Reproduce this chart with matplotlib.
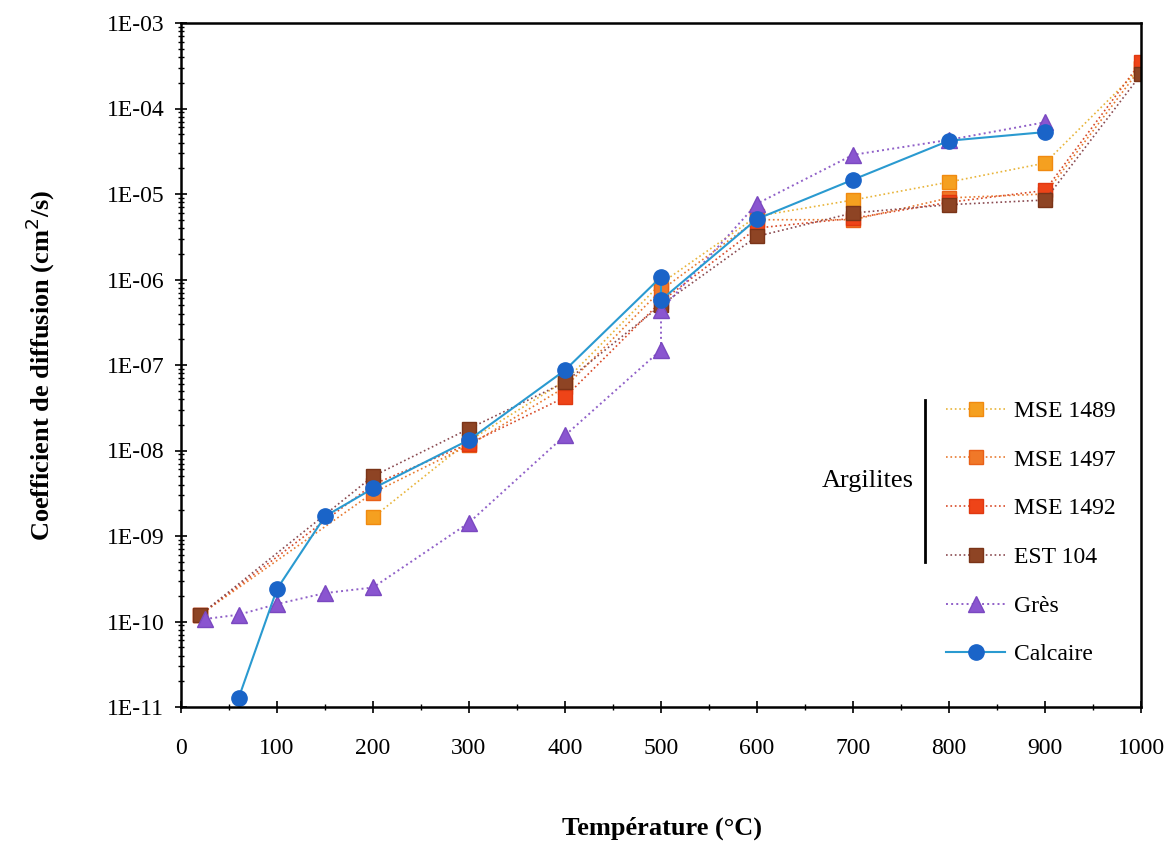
import numpy as np
from matplotlib import pyplot as plt
from matplotlib.ticker import FixedLocator, FuncFormatter, LogLocator, MultipleLocator
from matplotlib.lines import Line2D

# Donnees (T en degC, D en cm2/s)
T_1489 = [200, 300, 400, 500, 600, 700, 800, 900, 1000]
D_1489 = [1.65e-9, 1.3e-8, 6.5e-8, 9e-7, 5.5e-6, 8.5e-6, 1.38e-5, 2.3e-5, 3e-4]

T_1497 = [20, 200, 300, 400, 500, 600, 700, 800, 900, 1000]
D_1497 = [1.2e-10, 3.2e-9, 1.15e-8, 5.5e-8, 7.5e-7, 5e-6, 5e-6, 9e-6, 1e-5, 3e-4]

T_1492 = [20, 200, 300, 400, 500, 600, 700, 800, 900, 1000]
D_1492 = [1.2e-10, 4e-9, 1.2e-8, 4.2e-8, 5.5e-7, 4e-6, 5.2e-6, 8e-6, 1.1e-5, 3.5e-4]

T_est = [20, 200, 300, 400, 500, 600, 700, 800, 900, 1000]
D_est = [1.2e-10, 5e-9, 1.8e-8, 6.3e-8, 5e-7, 3.2e-6, 6e-6, 7.5e-6, 8.5e-6, 2.5e-4]

T_gres = [25, 60, 100, 150, 200, 300, 400, 500, 500, 600, 700, 800, 900]
D_gres = [1.07e-10, 1.2e-10, 1.6e-10, 2.15e-10, 2.5e-10, 1.43e-9, 1.5e-8, 1.5e-7, 4.4e-7,
          7.7e-6, 2.87e-5, 4.3e-5, 6.9e-5]

T_calc = [60, 100, 150, 200, 300, 400, 500, 500, 600, 700, 800, 900]
D_calc = [1.27e-11, 2.4e-10, 1.7e-9, 3.6e-9, 1.33e-8, 8.7e-8, 1.07e-6, 5.75e-7,
          5.1e-6, 1.47e-5, 4.2e-5, 5.3e-5]

plt.rcParams['font.family'] = ['Liberation Serif', 'DejaVu Serif']

fig = plt.figure(figsize=(11.74, 8.48), dpi=100)
ax = fig.add_axes([181/1174, 1 - 707/848, (1141 - 181)/1174, (707 - 23)/848])

ms = 10
ax.plot(T_1489, D_1489, ':', color='#e8b43a', lw=1.2, marker='s', ms=ms,
        mfc='#f5a020', mec='#f08a10', label='MSE 1489')
ax.plot(T_1497, D_1497, ':', color='#e87a30', lw=1.2, marker='s', ms=ms,
        mfc='#f07828', mec='#e86018', label='MSE 1497')
ax.plot(T_1492, D_1492, ':', color='#d84a28', lw=1.2, marker='s', ms=ms,
        mfc='#ee4418', mec='#e03810', label='MSE 1492')
ax.plot(T_est, D_est, ':', color='#8a4a50', lw=1.2, marker='s', ms=ms,
        mfc='#8e4424', mec='#7a3418', label='EST 104')
ax.plot(T_gres, D_gres, ':', color='#9060c8', lw=1.4, marker='^', ms=ms + 1,
        mfc='#8a55d0', mec='#7a48c0', label='Grès')
ax.plot(T_calc, D_calc, '-', color='#2a9ad0', lw=1.5, marker='o', ms=ms + 1,
        mfc='#1a64c8', mec='#1a64c8', label='Calcaire')

ax.set_yscale('log')
ax.set_ylim(1e-11, 1e-3)
ax.set_xlim(0, 1000)

ax.xaxis.set_major_locator(MultipleLocator(100))
ax.xaxis.set_minor_locator(MultipleLocator(50))
ax.yaxis.set_major_locator(FixedLocator([10.0**e for e in range(-11, -2)]))
ax.yaxis.set_minor_locator(LogLocator(base=10, subs=np.arange(2, 10), numticks=20))
ax.yaxis.set_major_formatter(FuncFormatter(lambda v, p: '1E-%02d' % round(-np.log10(v))))

ax.tick_params(axis='both', which='major', direction='inout', length=8, width=1.2,
               labelsize=17, pad=8)
ax.tick_params(axis='both', which='minor', direction='inout', length=5, width=1)
ax.tick_params(axis='x', pad=18)
for s in ax.spines.values():
    s.set_linewidth(1.8)

fig.text(40/1174, 1 - 365/848, 'Coefficient de diffusion (cm$^2$/s)', rotation=90,
         ha='center', va='center', fontsize=19, fontweight='bold')
fig.text(662/1174, 1 - 828/848, 'Température (°C)', ha='center', va='center',
         fontsize=19, fontweight='bold')

leg = ax.legend(loc='center left', bbox_to_anchor=(946/1174, 1 - 533/848),
                bbox_transform=fig.transFigure, frameon=False, fontsize=17,
                handlelength=2.5, handletextpad=0.4, labelspacing=1.15,
                borderpad=0, borderaxespad=0)

fig.text(868/1174, 1 - 481/848, 'Argilites', ha='center', va='center', fontsize=19)
fig.add_artist(Line2D([925/1174, 925/1174], [1 - 400/848, 1 - 562/848],
                      color='black', lw=2, transform=fig.transFigure))

fig.savefig('out.png', dpi=100)
